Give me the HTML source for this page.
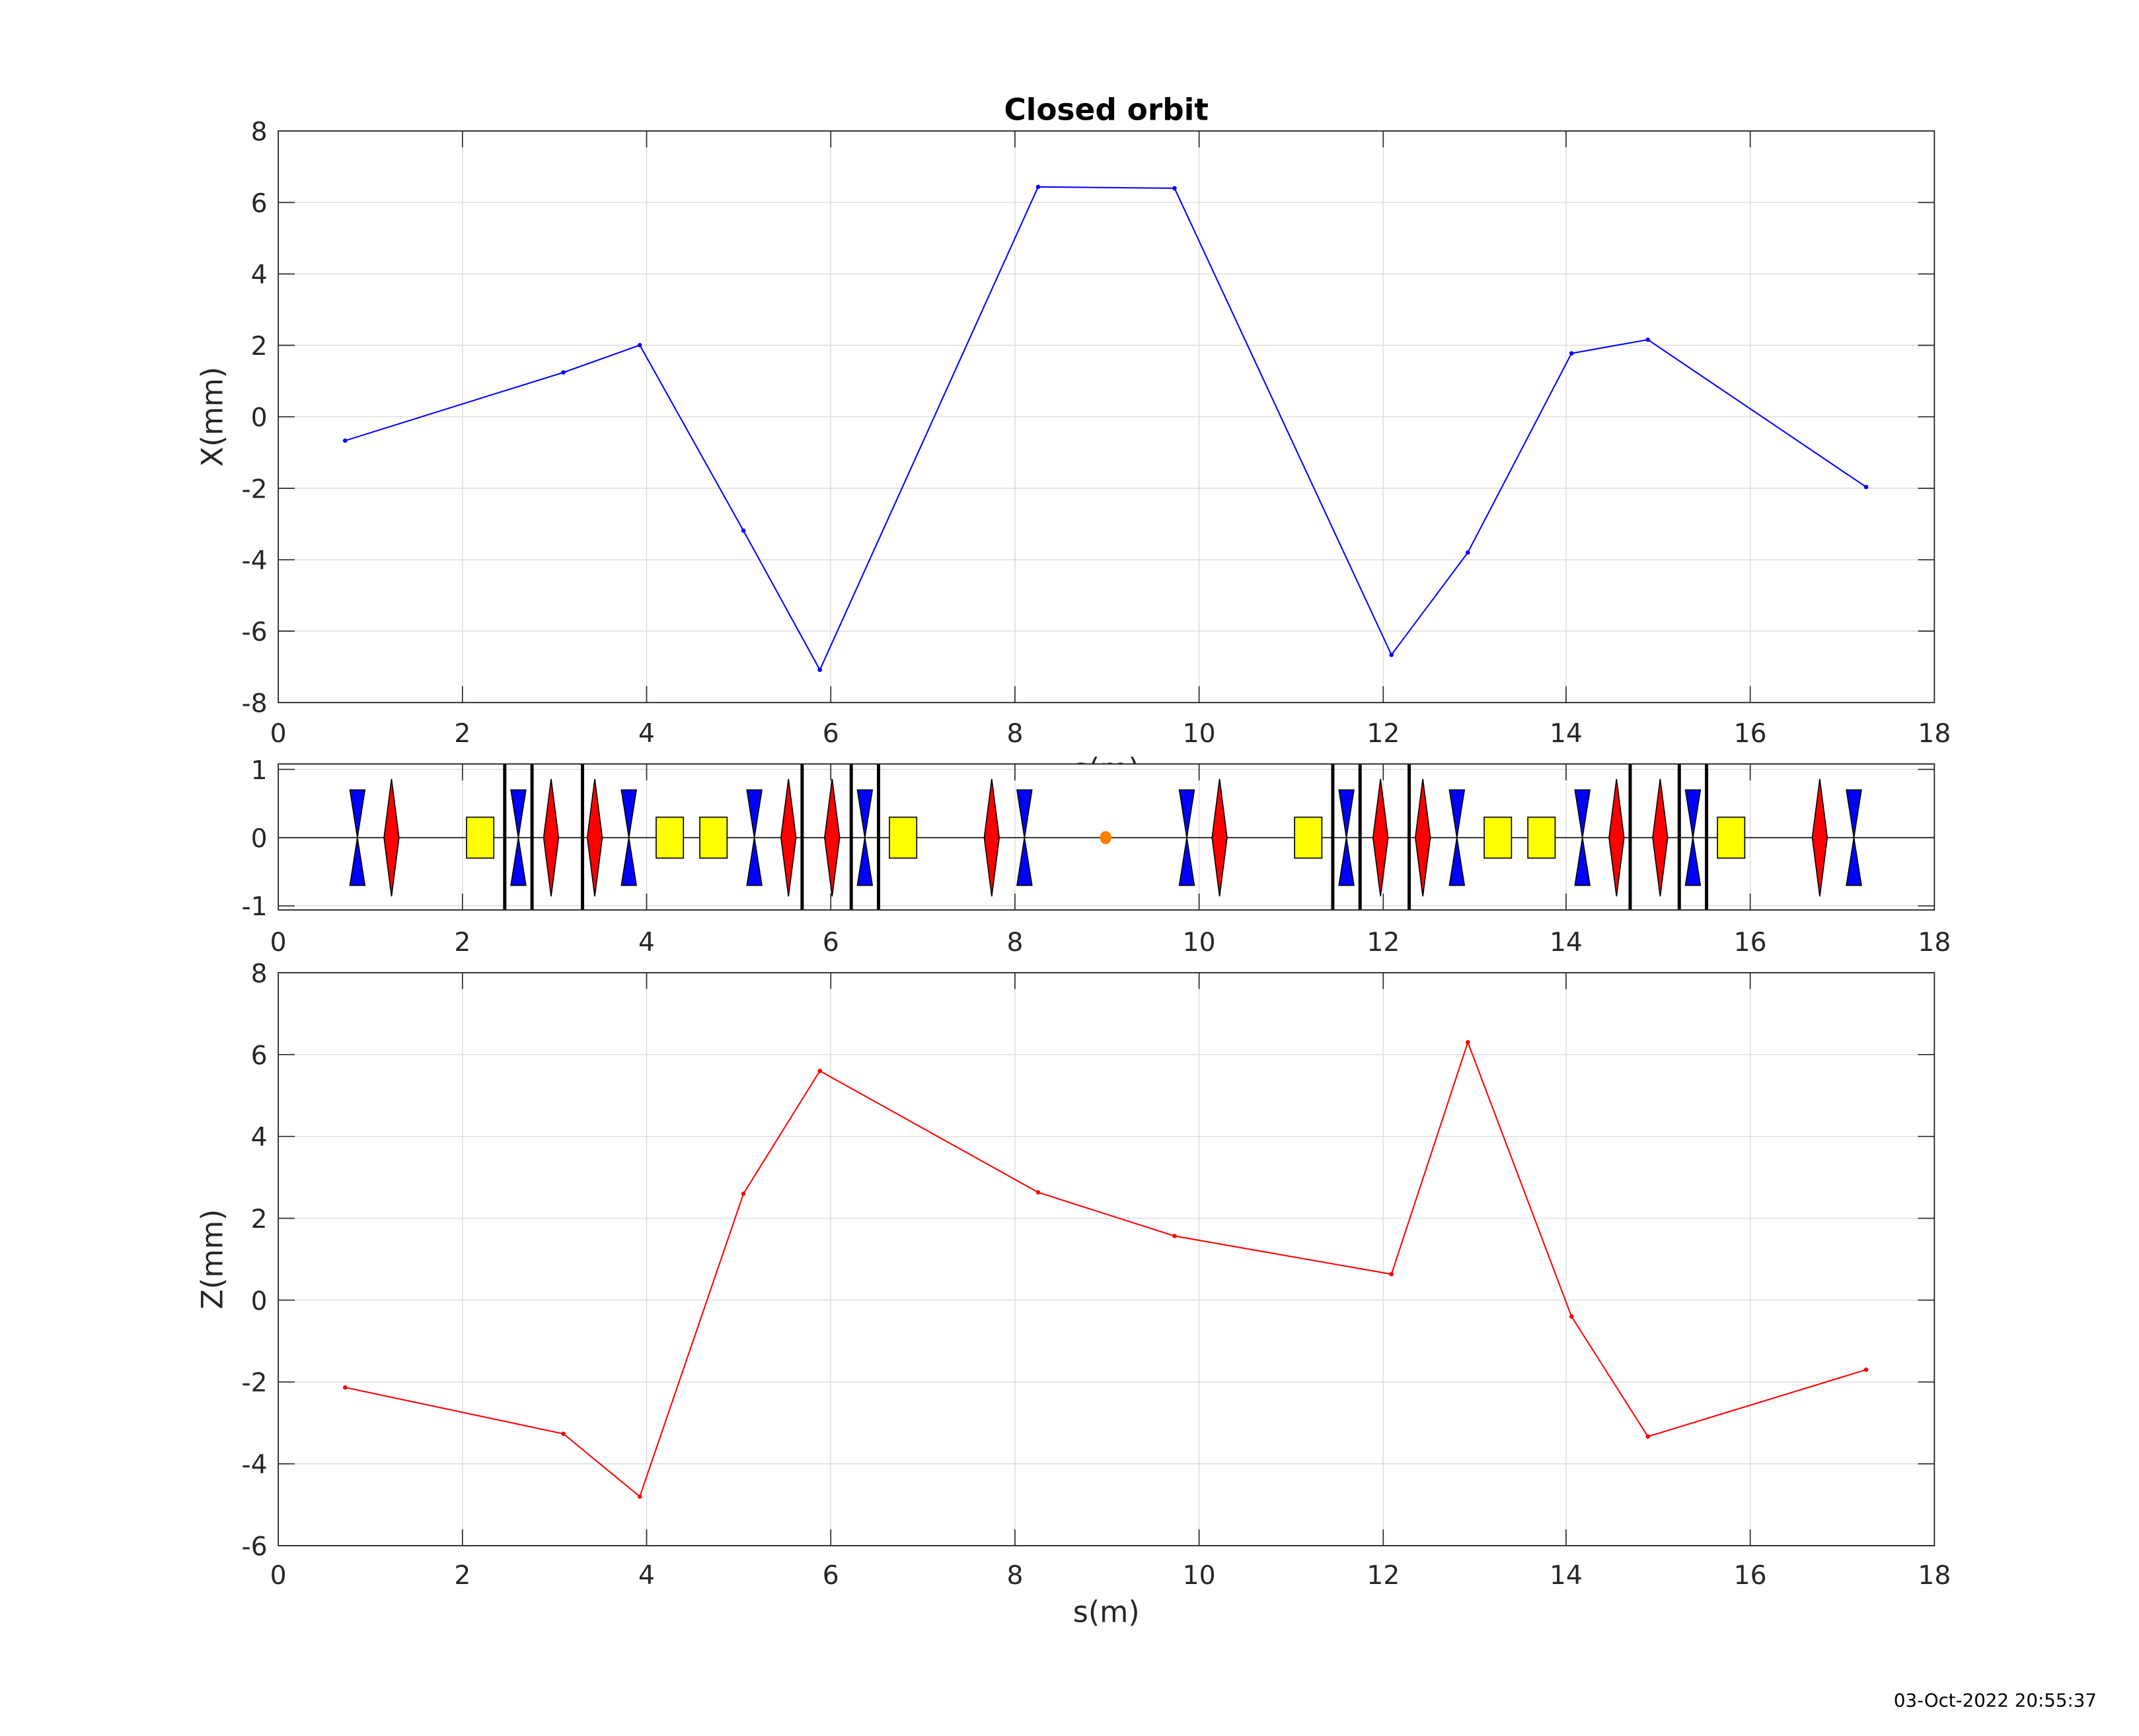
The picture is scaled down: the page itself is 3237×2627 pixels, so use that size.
<!DOCTYPE html>
<html><head><meta charset="utf-8"><style>html,body{margin:0;padding:0;background:#fff}svg{display:block}</style></head>
<body>
<svg xmlns="http://www.w3.org/2000/svg" width="3237" height="2627" viewBox="0 0 1568 1272.5" preserveAspectRatio="none" font-family="'DejaVu Sans','Liberation Sans',sans-serif">
<defs>
<g id="qd"><polygon points="-5.5,-35 5.5,-35 0,0" fill="#0000ff" stroke="#000" stroke-width="0.8"/><polygon points="0,0 5.5,35 -5.5,35" fill="#0000ff" stroke="#000" stroke-width="0.8"/></g>
<g id="qf"><polygon points="0,-43 5.5,0 0,43 -5.5,0" fill="#ff0000" stroke="#000" stroke-width="0.8"/></g>
<g id="bd"><rect x="-10" y="-15" width="20" height="30" fill="#ffff00" stroke="#000" stroke-width="0.8"/></g>
</defs>
<rect width="1568" height="1272.5" fill="#fff"/>

<!-- TOP PLOT -->
<g stroke="#dcdcdc" stroke-width="0.7">
<line x1="339" y1="96" x2="339" y2="515"/><line x1="474" y1="96" x2="474" y2="515"/><line x1="609" y1="96" x2="609" y2="515"/><line x1="744" y1="96" x2="744" y2="515"/><line x1="879" y1="96" x2="879" y2="515"/><line x1="1014" y1="96" x2="1014" y2="515"/><line x1="1148" y1="96" x2="1148" y2="515"/><line x1="1283" y1="96" x2="1283" y2="515"/>
<line x1="204" y1="148.4" x2="1418" y2="148.4"/><line x1="204" y1="200.8" x2="1418" y2="200.8"/><line x1="204" y1="253.1" x2="1418" y2="253.1"/><line x1="204" y1="305.5" x2="1418" y2="305.5"/><line x1="204" y1="357.9" x2="1418" y2="357.9"/><line x1="204" y1="410.3" x2="1418" y2="410.3"/><line x1="204" y1="462.6" x2="1418" y2="462.6"/>
</g>
<g stroke="#262626" stroke-width="0.8">
<path d="M339,96v12M474,96v12M609,96v12M744,96v12M879,96v12M1014,96v12M1148,96v12M1283,96v12M339,515v-12M474,515v-12M609,515v-12M744,515v-12M879,515v-12M1014,515v-12M1148,515v-12M1283,515v-12"/>
<path d="M204,148.4h12M204,200.8h12M204,253.1h12M204,305.5h12M204,357.9h12M204,410.3h12M204,462.6h12M1418,148.4h-12M1418,200.8h-12M1418,253.1h-12M1418,305.5h-12M1418,357.9h-12M1418,410.3h-12M1418,462.6h-12"/>
</g>
<rect x="204" y="96" width="1214" height="419" fill="none" stroke="#262626" stroke-width="0.9"/>
<polyline fill="none" stroke="#0000ff" stroke-width="1" points="253,323 413,273 469,253 545,389 601,491 761,137 861,138 1020,480 1076,405 1152,259 1208,249 1368,357"/>
<g fill="#0000ff"><circle cx="253" cy="323" r="1.6"/><circle cx="413" cy="273" r="1.6"/><circle cx="469" cy="253" r="1.6"/><circle cx="545" cy="389" r="1.6"/><circle cx="601" cy="491" r="1.6"/><circle cx="761" cy="137" r="1.6"/><circle cx="861" cy="138" r="1.6"/><circle cx="1020" cy="480" r="1.6"/><circle cx="1076" cy="405" r="1.6"/><circle cx="1152" cy="259" r="1.6"/><circle cx="1208" cy="249" r="1.6"/><circle cx="1368" cy="357" r="1.6"/></g>
<text x="811" y="88" text-anchor="middle" font-size="22" font-weight="bold" fill="#000">Closed orbit</text>
<g font-size="19" fill="#262626" text-anchor="end">
<text x="196" y="103">8</text><text x="196" y="155.4">6</text><text x="196" y="207.8">4</text><text x="196" y="260.1">2</text><text x="196" y="312.5">0</text><text x="196" y="364.9">-2</text><text x="196" y="417.3">-4</text><text x="196" y="469.6">-6</text><text x="196" y="522">-8</text>
</g>
<g font-size="19" fill="#262626" text-anchor="middle">
<text x="204" y="544">0</text><text x="339" y="544">2</text><text x="474" y="544">4</text><text x="609" y="544">6</text><text x="744" y="544">8</text><text x="879" y="544">10</text><text x="1014" y="544">12</text><text x="1148" y="544">14</text><text x="1283" y="544">16</text><text x="1418" y="544">18</text>
<text x="811" y="571" font-size="21.5">s(m)</text>
</g>
<text transform="translate(163,305.5) rotate(-90)" text-anchor="middle" font-size="21.5" fill="#262626">X(mm)</text>

<!-- MIDDLE PLOT -->
<rect x="204" y="560" width="1214" height="107" fill="#fff"/>
<g stroke="#dcdcdc" stroke-width="0.7">
<line x1="339" y1="560" x2="339" y2="667"/><line x1="474" y1="560" x2="474" y2="667"/><line x1="609" y1="560" x2="609" y2="667"/><line x1="744" y1="560" x2="744" y2="667"/><line x1="879" y1="560" x2="879" y2="667"/><line x1="1014" y1="560" x2="1014" y2="667"/><line x1="1148" y1="560" x2="1148" y2="667"/><line x1="1283" y1="560" x2="1283" y2="667"/>
<line x1="204" y1="564" x2="1418" y2="564"/><line x1="204" y1="664" x2="1418" y2="664"/>
</g>
<g stroke="#262626" stroke-width="0.8">
<path d="M339,560v12M474,560v12M609,560v12M744,560v12M879,560v12M1014,560v12M1148,560v12M1283,560v12M339,667v-12M474,667v-12M609,667v-12M744,667v-12M879,667v-12M1014,667v-12M1148,667v-12M1283,667v-12"/>
<path d="M204,564h12M204,664h12M1418,564h-12M1418,664h-12"/>
</g>
<line x1="204" y1="614" x2="1418" y2="614" stroke="#000" stroke-width="0.8"/>
<g stroke="#000" stroke-width="2.4">
<path d="M370,560v107M390,560v107M427,560v107M588,560v107M624,560v107M644,560v107M977,560v107M997,560v107M1033,560v107M1195,560v107M1231,560v107M1251,560v107"/>
</g>
<g transform="translate(0,614)">
<use href="#qd" x="262"/><use href="#qf" x="287"/><use href="#bd" x="352"/>
<use href="#qd" x="380"/><use href="#qf" x="404"/><use href="#qf" x="436"/><use href="#qd" x="461"/>
<use href="#bd" x="491"/><use href="#bd" x="523"/><use href="#qd" x="553"/><use href="#qf" x="578"/>
<use href="#qf" x="610"/><use href="#qd" x="634"/><use href="#bd" x="662"/>
<use href="#qf" x="727"/><use href="#qd" x="751"/>
<use href="#qd" x="870"/><use href="#qf" x="894"/><use href="#bd" x="959"/>
<use href="#qd" x="987"/><use href="#qf" x="1012"/><use href="#qf" x="1043"/><use href="#qd" x="1068"/>
<use href="#bd" x="1098"/><use href="#bd" x="1130"/><use href="#qd" x="1160"/><use href="#qf" x="1185"/>
<use href="#qf" x="1217"/><use href="#qd" x="1241"/><use href="#bd" x="1269"/>
<use href="#qf" x="1334"/><use href="#qd" x="1359"/>
</g>
<ellipse cx="810.5" cy="614" rx="4.2" ry="4.8" fill="#ff8000"/>
<rect x="204" y="560" width="1214" height="107" fill="none" stroke="#262626" stroke-width="0.9"/>
<g font-size="19" fill="#262626" text-anchor="end">
<text x="196" y="571">1</text><text x="196" y="621">0</text><text x="196" y="671">-1</text>
</g>
<g font-size="19" fill="#262626" text-anchor="middle">
<text x="204" y="697">0</text><text x="339" y="697">2</text><text x="474" y="697">4</text><text x="609" y="697">6</text><text x="744" y="697">8</text><text x="879" y="697">10</text><text x="1014" y="697">12</text><text x="1148" y="697">14</text><text x="1283" y="697">16</text><text x="1418" y="697">18</text>
</g>

<!-- BOTTOM PLOT -->
<g stroke="#dcdcdc" stroke-width="0.7">
<line x1="339" y1="713" x2="339" y2="1133"/><line x1="474" y1="713" x2="474" y2="1133"/><line x1="609" y1="713" x2="609" y2="1133"/><line x1="744" y1="713" x2="744" y2="1133"/><line x1="879" y1="713" x2="879" y2="1133"/><line x1="1014" y1="713" x2="1014" y2="1133"/><line x1="1148" y1="713" x2="1148" y2="1133"/><line x1="1283" y1="713" x2="1283" y2="1133"/>
<line x1="204" y1="773" x2="1418" y2="773"/><line x1="204" y1="833" x2="1418" y2="833"/><line x1="204" y1="893" x2="1418" y2="893"/><line x1="204" y1="953" x2="1418" y2="953"/><line x1="204" y1="1013" x2="1418" y2="1013"/><line x1="204" y1="1073" x2="1418" y2="1073"/>
</g>
<g stroke="#262626" stroke-width="0.8">
<path d="M339,713v12M474,713v12M609,713v12M744,713v12M879,713v12M1014,713v12M1148,713v12M1283,713v12M339,1133v-12M474,1133v-12M609,1133v-12M744,1133v-12M879,1133v-12M1014,1133v-12M1148,1133v-12M1283,1133v-12"/>
<path d="M204,773h12M204,833h12M204,893h12M204,953h12M204,1013h12M204,1073h12M1418,773h-12M1418,833h-12M1418,893h-12M1418,953h-12M1418,1013h-12M1418,1073h-12"/>
</g>
<rect x="204" y="713" width="1214" height="420" fill="none" stroke="#262626" stroke-width="0.9"/>
<polyline fill="none" stroke="#ff0000" stroke-width="1" points="253,1017 413,1051 469,1097 545,875 601,785 761,874 861,906 1020,934 1076,764 1152,965 1208,1053 1368,1004"/>
<g fill="#ff0000"><circle cx="253" cy="1017" r="1.6"/><circle cx="413" cy="1051" r="1.6"/><circle cx="469" cy="1097" r="1.6"/><circle cx="545" cy="875" r="1.6"/><circle cx="601" cy="785" r="1.6"/><circle cx="761" cy="874" r="1.6"/><circle cx="861" cy="906" r="1.6"/><circle cx="1020" cy="934" r="1.6"/><circle cx="1076" cy="764" r="1.6"/><circle cx="1152" cy="965" r="1.6"/><circle cx="1208" cy="1053" r="1.6"/><circle cx="1368" cy="1004" r="1.6"/></g>
<g font-size="19" fill="#262626" text-anchor="end">
<text x="196" y="720">8</text><text x="196" y="780">6</text><text x="196" y="840">4</text><text x="196" y="900">2</text><text x="196" y="960">0</text><text x="196" y="1020">-2</text><text x="196" y="1080">-4</text><text x="196" y="1140">-6</text>
</g>
<g font-size="19" fill="#262626" text-anchor="middle">
<text x="204" y="1161">0</text><text x="339" y="1161">2</text><text x="474" y="1161">4</text><text x="609" y="1161">6</text><text x="744" y="1161">8</text><text x="879" y="1161">10</text><text x="1014" y="1161">12</text><text x="1148" y="1161">14</text><text x="1283" y="1161">16</text><text x="1418" y="1161">18</text>
<text x="811" y="1189" font-size="21.5">s(m)</text>
</g>
<text transform="translate(163,923) rotate(-90)" text-anchor="middle" font-size="21.5" fill="#262626">Z(mm)</text>

<text x="1537" y="1251" text-anchor="end" font-size="13.4" fill="#000">03-Oct-2022 20:55:37</text>
</svg>
</body></html>
